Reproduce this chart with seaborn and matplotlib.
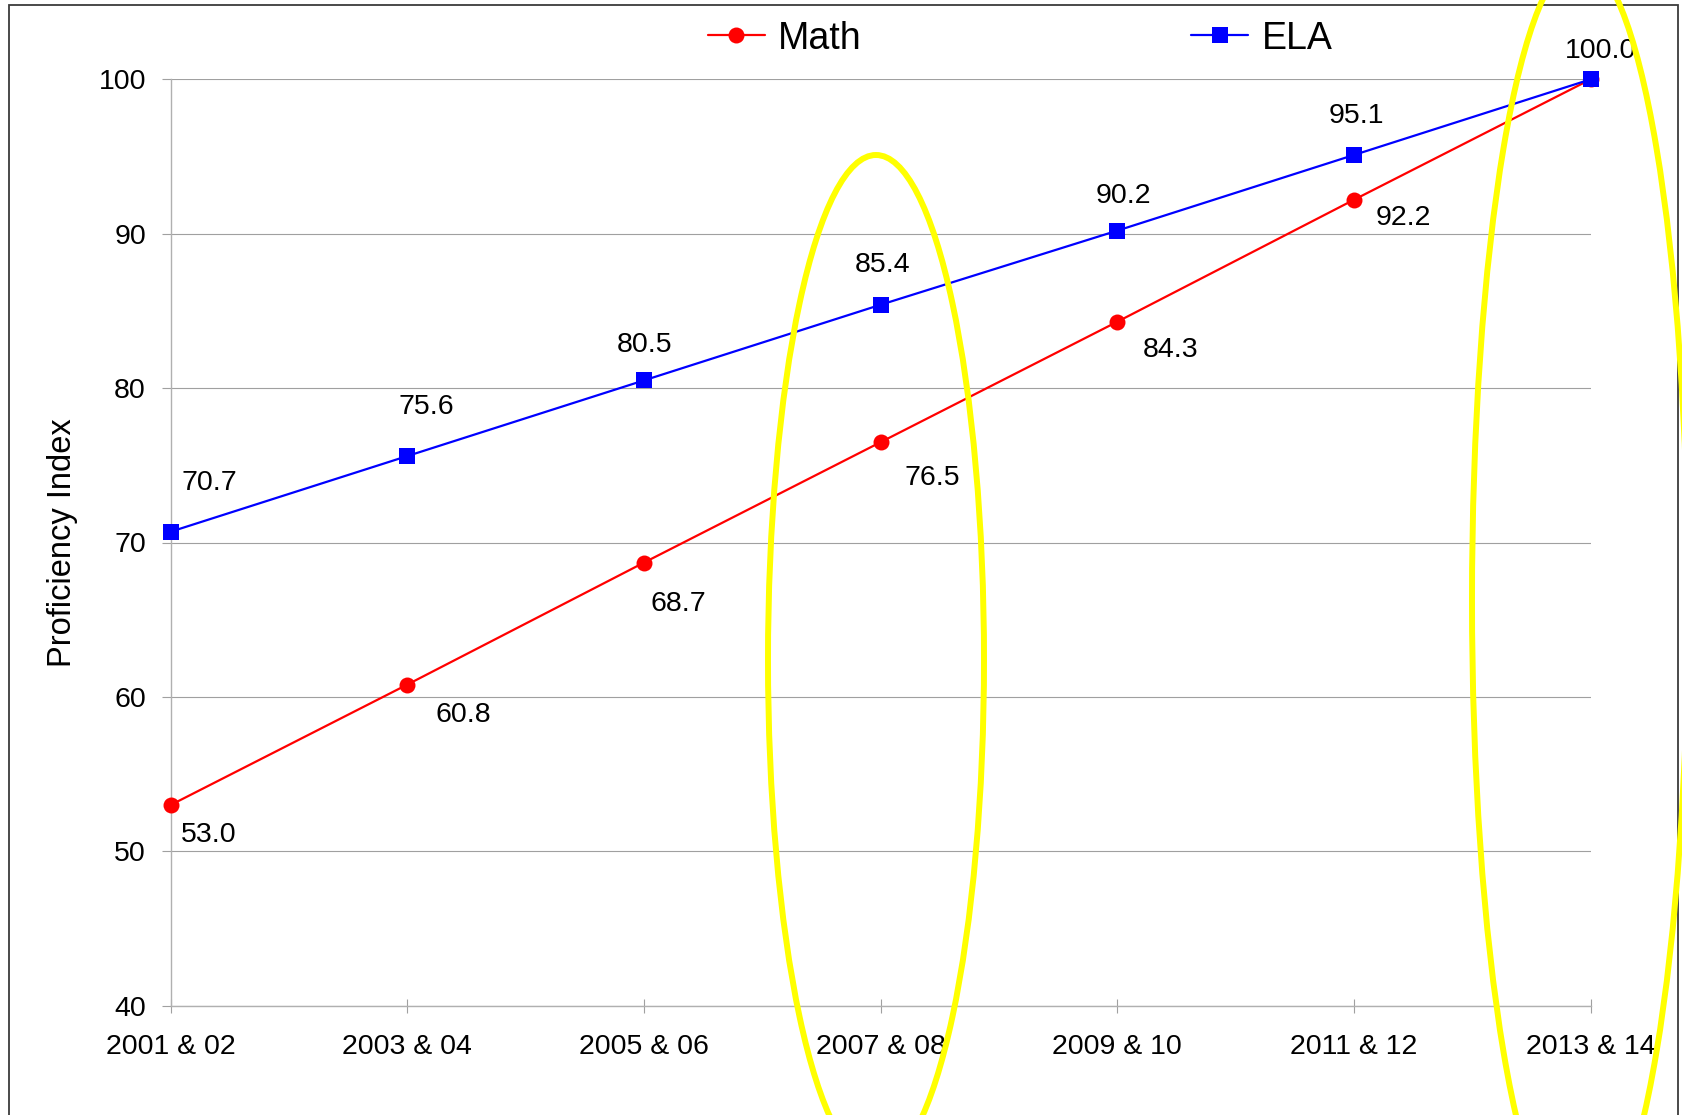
import matplotlib
matplotlib.use("Agg")
import matplotlib.pyplot as plt
import seaborn as sns
import pandas as pd
from matplotlib.patches import Ellipse, Rectangle

# ---- data ----
periods = ["2001 & 02", "2003 & 04", "2005 & 06", "2007 & 08",
           "2009 & 10", "2011 & 12", "2013 & 14"]
math_values = [53.0, 60.8, 68.7, 76.5, 84.3, 92.2, 100.0]
ela_values = [70.7, 75.6, 80.5, 85.4, 90.2, 95.1, 100.0]
series_names = ["Math", "ELA"]
y_ticks = [40, 50, 60, 70, 80, 90, 100]
y_label = "Proficiency Index"

# ---- label placement (pixel offsets from each point, x right / y down) ----
math_label_offsets = [(38, 27), (56, 27), (34, 38), (52, 33), (53, 25), (49, 15), None]
ela_label_offsets = [(39, -52), (19, -52), (1, -38), (2, -43), (6, -38), (2, -42), (10, -31)]

W, H = 1683, 1115
sns.set_theme(style="white")
plt.rcParams["font.family"] = ["Liberation Sans", "DejaVu Sans"]
plt.rcParams["text.color"] = "black"
plt.rcParams["axes.labelcolor"] = "black"
plt.rcParams["xtick.color"] = "black"
plt.rcParams["ytick.color"] = "black"

fig = plt.figure(figsize=(W / 100, H / 100), dpi=100, facecolor="white")
ax = fig.add_axes([170.7 / W, 1 - 1005.7 / H, 1420.0 / W, 926.4 / H])

df = pd.DataFrame({
    "Period": periods * 2,
    "Index": math_values + ela_values,
    "Subject": [series_names[0]] * len(periods) + [series_names[1]] * len(periods),
})

sns.lineplot(data=df, x="Period", y="Index", hue="Subject", style="Subject",
             hue_order=series_names, style_order=series_names,
             markers={"Math": "o", "ELA": "s"}, dashes=False,
             palette={"Math": "#ff0000", "ELA": "#0000ff"},
             markersize=11.5, linewidth=1.6, markeredgewidth=0,
             sort=False, ax=ax)
for ln in ax.lines:
    ln.set_clip_on(False)
    ln.set_zorder(4)

handles, labels = ax.get_legend_handles_labels()
hmap = dict(zip(labels, handles))
leg_handles = [hmap[n] for n in series_names]
if ax.get_legend() is not None:
    ax.get_legend().remove()

ax.set_xlim(0, len(periods) - 1)
ax.set_ylim(y_ticks[0], y_ticks[-1])
ax.set_yticks(y_ticks)
ax.set_xlabel("")
ax.set_ylabel(y_label, fontsize=23.5, va="center", color="black")
ax.yaxis.set_label_coords((62 - 170.7) / 1420.0, 0.5)

ax.grid(axis="y", color="#a0a0a0", linewidth=0.8)
ax.grid(axis="x", visible=False)
for s in ["top", "right"]:
    ax.spines[s].set_visible(False)
for s in ["left", "bottom"]:
    ax.spines[s].set_color("#b0b0b0")
    ax.spines[s].set_linewidth(1.0)

ax.tick_params(axis="y", direction="out", length=6.5, width=0.8, color="#a0a0a0",
               pad=11.3, labelsize=20.5, left=True, labelcolor="black")
ax.tick_params(axis="x", direction="inout", length=10, width=0.8, color="#a0a0a0",
               pad=15.5, labelsize=20.5, bottom=True, labelcolor="black")

# data labels
digit_half = 10
for vals, offs in ((math_values, math_label_offsets), (ela_values, ela_label_offsets)):
    for i, (v, off) in enumerate(zip(vals, offs)):
        if off is None:
            continue
        ax.annotate(f"{v:.1f}", xy=(i, v), xytext=(off[0], -(off[1] + digit_half)),
                    textcoords="offset pixels", ha="center", va="baseline",
                    fontsize=20.5, color="black", annotation_clip=False, zorder=5)

# legend
leg = fig.legend(leg_handles, series_names, loc="center",
                 bbox_to_anchor=(1020 / W, 1 - 38.6 / H), ncol=2, frameon=False,
                 fontsize=27, handlelength=1.52, handletextpad=0.35,
                 columnspacing=8.8, borderpad=0, borderaxespad=0)
for t in leg.get_texts():
    t.set_color("black")

# outer border
fig.add_artist(Rectangle((9 / W, -0.05), (1678 - 9) / W, 1.05 - 5 / H,
                         transform=fig.transFigure, fill=False,
                         edgecolor="#3c3c3c", linewidth=1.3, zorder=1))

# yellow highlight ellipses
for cx, cy, ew, eh in [(876, 660, 216, 1010), (1580, 600, 216, 1280)]:
    fig.add_artist(Ellipse((cx / W, 1 - cy / H), ew / W, eh / H,
                           transform=fig.transFigure, fill=False,
                           edgecolor="#ffff00", linewidth=4.3, zorder=10))

fig.savefig("out.png", dpi=100, facecolor="white")
